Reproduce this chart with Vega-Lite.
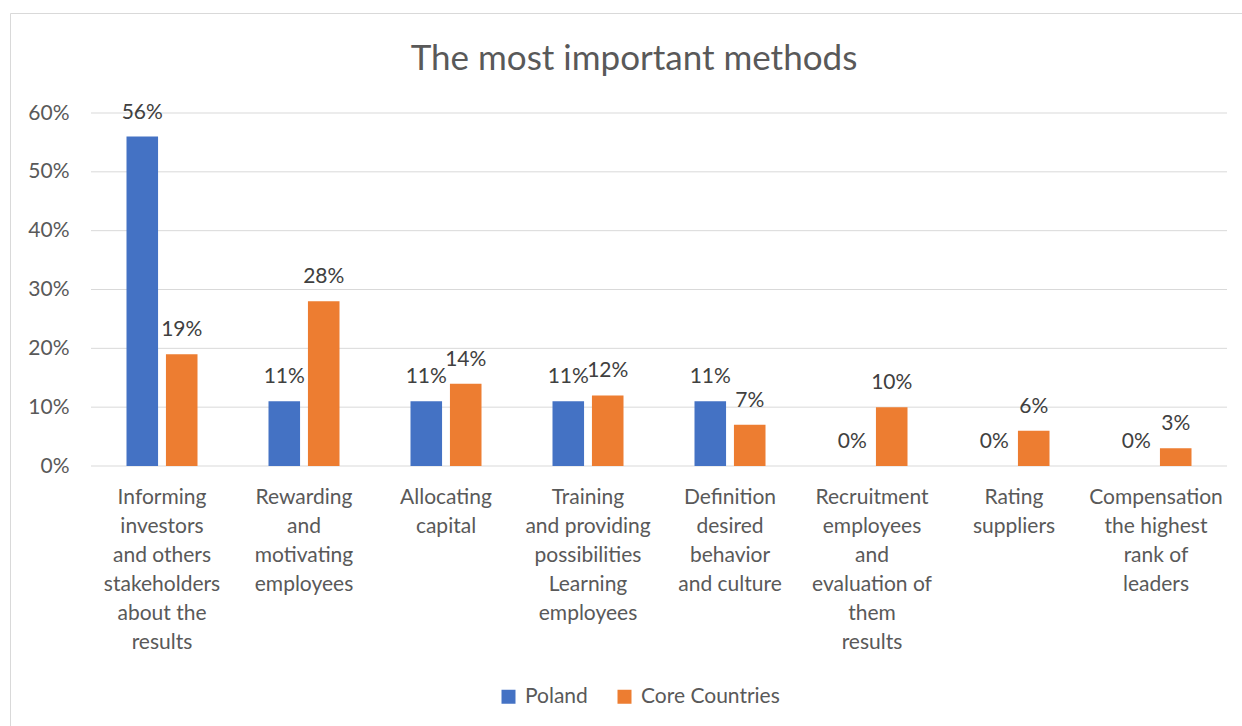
{
  "$schema": "https://vega.github.io/schema/vega-lite/v6.json",
  "width": 1232,
  "height": 713,
  "autosize": {"type": "none"},
  "padding": {"left": 10, "top": 13, "right": 0, "bottom": 0},
  "background": "white",
  "config": {
    "view": {"stroke": "#d9d9d9", "strokeWidth": 1},
    "font": "Lato"
  },
  "title": {
    "text": "The most important methods",
    "fontSize": 35,
    "fontWeight": "normal",
    "color": "#595959",
    "font": "Lato",
    "anchor": "middle",
    "offset": -92,
    "dx": 8,
    "baseline": "alphabetic"
  },
  "datasets": {
    "grid": [{"v": 0}, {"v": 0.1}, {"v": 0.2}, {"v": 0.3}, {"v": 0.4}, {"v": 0.5}, {"v": 0.6}],
    "main": [
      {"cat": "Informing|investors|and others|stakeholders|about the|results", "series": "Poland", "value": 0.56},
      {"cat": "Informing|investors|and others|stakeholders|about the|results", "series": "Core Countries", "value": 0.19},
      {"cat": "Rewarding|and|motivating|employees", "series": "Poland", "value": 0.11},
      {"cat": "Rewarding|and|motivating|employees", "series": "Core Countries", "value": 0.28},
      {"cat": "Allocating|capital", "series": "Poland", "value": 0.11},
      {"cat": "Allocating|capital", "series": "Core Countries", "value": 0.14},
      {"cat": "Training|and providing|possibilities|Learning|employees", "series": "Poland", "value": 0.11},
      {"cat": "Training|and providing|possibilities|Learning|employees", "series": "Core Countries", "value": 0.12},
      {"cat": "Definition|desired|behavior|and culture", "series": "Poland", "value": 0.11},
      {"cat": "Definition|desired|behavior|and culture", "series": "Core Countries", "value": 0.07},
      {"cat": "Recruitment|employees|and|evaluation of|them|results", "series": "Poland", "value": 0},
      {"cat": "Recruitment|employees|and|evaluation of|them|results", "series": "Core Countries", "value": 0.10},
      {"cat": "Rating|suppliers", "series": "Poland", "value": 0},
      {"cat": "Rating|suppliers", "series": "Core Countries", "value": 0.06},
      {"cat": "Compensation|the highest|rank of|leaders", "series": "Poland", "value": 0},
      {"cat": "Compensation|the highest|rank of|leaders", "series": "Core Countries", "value": 0.03}
    ]
  },
  "layer": [
    {
      "data": {"name": "grid"},
      "mark": {"type": "rule", "color": "#d9d9d9", "strokeWidth": 1},
      "encoding": {
        "y": {
          "field": "v",
          "type": "quantitative",
          "scale": {"domain": [0, 0.6], "range": [453, 100], "nice": false},
          "axis": {
            "orient": "left",
            "offset": -81,
            "domain": false,
            "ticks": false,
            "grid": false,
            "labelPadding": 22,
            "values": [0, 0.1, 0.2, 0.3, 0.4, 0.5, 0.6],
            "format": ".0%",
            "labelFontSize": 21,
            "labelFont": "Lato",
            "labelColor": "#595959",
            "title": null
          }
        },
        "x": {"datum": 0, "type": "quantitative", "scale": {"domain": [0, 1], "range": [81, 1217]}, "axis": null},
        "x2": {"datum": 1}
      }
    },
    {
      "data": {"name": "main"},
      "encoding": {
        "x": {
          "field": "cat",
          "type": "nominal",
          "sort": null,
          "scale": {"range": [81, 1217], "paddingInner": 0.5, "paddingOuter": 0.25},
          "axis": {
            "orient": "bottom",
            "offset": -260,
            "domain": false,
            "ticks": false,
            "grid": false,
            "labelPadding": 20,
            "labelExpr": "split(datum.label, '|')",
            "labelFontSize": 21,
            "labelFont": "Lato",
            "labelColor": "#595959",
            "labelLineHeight": 29,
            "labelLimit": 0,
            "labelAngle": 0,
            "title": null
          }
        },
        "xOffset": {"field": "series", "type": "nominal", "sort": ["Poland", "Core Countries"], "scale": {"paddingInner": 0.2}},
        "y": {
          "field": "value",
          "type": "quantitative",
          "scale": {"domain": [0, 0.6], "range": [453, 100], "nice": false},
          "axis": {
            "orient": "left",
            "offset": -81,
            "domain": false,
            "ticks": false,
            "grid": false,
            "labelPadding": 22,
            "values": [0, 0.1, 0.2, 0.3, 0.4, 0.5, 0.6],
            "format": ".0%",
            "labelFontSize": 21,
            "labelFont": "Lato",
            "labelColor": "#595959",
            "title": null
          }
        }
      },
      "layer": [
        {
          "mark": {"type": "bar"},
          "encoding": {
            "color": {
              "field": "series",
              "type": "nominal",
              "sort": ["Poland", "Core Countries"],
              "scale": {"domain": ["Poland", "Core Countries"], "range": ["#4472C4", "#ED7D31"]},
              "legend": {
                "orient": "none",
                "legendX": 488,
                "legendY": 673,
                "direction": "horizontal",
                "title": null,
                "symbolType": "square",
                "symbolSize": 196,
                "symbolStrokeWidth": 0,
                "labelFontSize": 21,
                "labelFont": "Lato",
                "labelColor": "#595959",
                "columnPadding": 26,
                "labelOffset": 6
              }
            }
          }
        },
        {
          "mark": {"type": "text", "dy": -24, "baseline": "middle", "fontSize": 21, "font": "Lato", "color": "#404040"},
          "encoding": {
            "text": {"field": "value", "type": "quantitative", "format": ".0%"}
          }
        }
      ]
    }
  ],
  "resolve": {"scale": {"x": "independent"}}
}
